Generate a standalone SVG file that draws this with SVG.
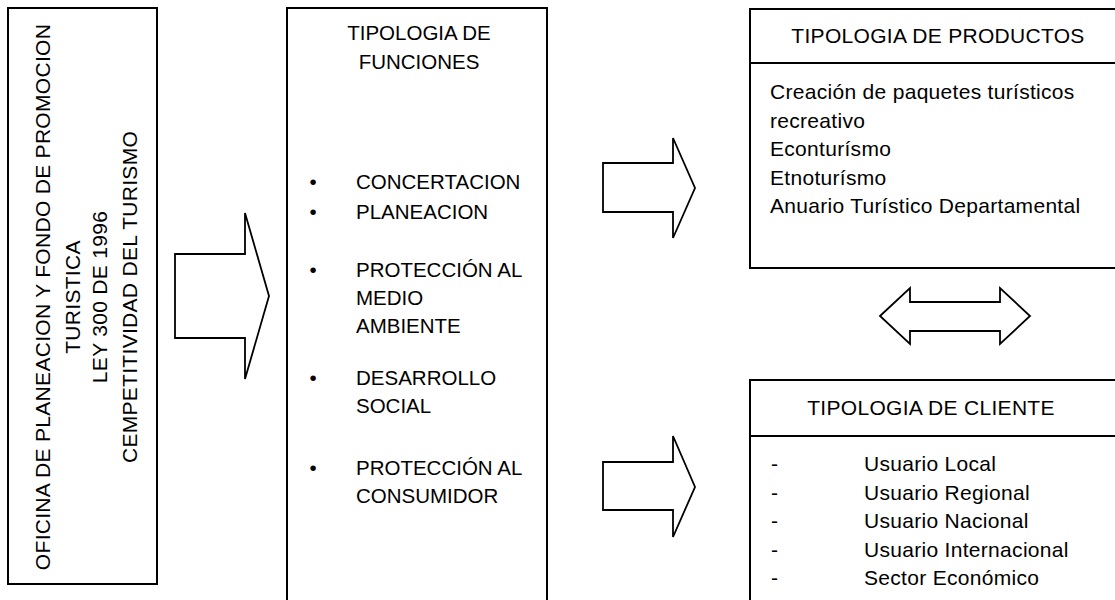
<svg xmlns="http://www.w3.org/2000/svg" width="1115" height="600" viewBox="0 0 1115 600">
<style>
text{font-family:"Liberation Sans",Arial,sans-serif;font-size:21px;letter-spacing:0.3px;fill:#000}
.m{font-size:20.5px;letter-spacing:0}
.box{fill:#fff;stroke:#000;stroke-width:2}
.arr{fill:#fff;stroke:#000;stroke-width:1.8;stroke-linejoin:miter}
.c{text-anchor:middle}
</style>
<rect width="1115" height="600" fill="#fff"/>
<g id="oficina">
<rect class="box" x="8" y="8" width="149" height="576"/>
<text class="c" transform="translate(50,297) rotate(-90)">OFICINA DE PLANEACION Y FONDO DE PROMOCION</text>
<text class="c" transform="translate(80,297) rotate(-90)">TURISTICA</text>
<text class="c" transform="translate(107,297) rotate(-90)">LEY 300 DE 1996</text>
<text class="c" transform="translate(137,297) rotate(-90)">CEMPETITIVIDAD DEL TURISMO</text>
</g>
<g id="funciones">
<rect class="box" x="287" y="8" width="260" height="600"/>
<text class="c m" x="419" y="40">TIPOLOGIA DE</text>
<text class="c m" x="419" y="69">FUNCIONES</text>
<text class="c m" x="313" y="189">•</text><text class="m" x="356" y="189">CONCERTACION</text>
<text class="c m" x="313" y="219">•</text><text class="m" x="356" y="219">PLANEACION</text>
<text class="c m" x="313" y="277">•</text><text class="m" x="356" y="277">PROTECCIÓN AL</text>
<text class="m" x="356" y="305">MEDIO</text>
<text class="m" x="356" y="333">AMBIENTE</text>
<text class="c m" x="313" y="385">•</text><text class="m" x="356" y="385">DESARROLLO</text>
<text class="m" x="356" y="413">SOCIAL</text>
<text class="c m" x="313" y="475">•</text><text class="m" x="356" y="475">PROTECCIÓN AL</text>
<text class="m" x="356" y="503">CONSUMIDOR</text>
</g>
<g id="productos">
<rect class="box" x="750" y="9" width="380" height="259"/>
<line x1="750" y1="63" x2="1130" y2="63" stroke="#000" stroke-width="2"/>
<text class="c" x="938" y="43">TIPOLOGIA DE PRODUCTOS</text>
<text x="770" y="99">Creación de paquetes turísticos</text>
<text x="770" y="127.5">recreativo</text>
<text x="770" y="156">Econturísmo</text>
<text x="770" y="184.5">Etnoturísmo</text>
<text x="770" y="213">Anuario Turístico Departamental</text>
</g>
<g id="cliente">
<rect class="box" x="750" y="380" width="380" height="240"/>
<line x1="750" y1="436" x2="1130" y2="436" stroke="#000" stroke-width="2"/>
<text class="c" x="931" y="415">TIPOLOGIA DE CLIENTE</text>
<text x="771" y="471">-</text><text x="864" y="471">Usuario Local</text>
<text x="771" y="499.5">-</text><text x="864" y="499.5">Usuario Regional</text>
<text x="771" y="528">-</text><text x="864" y="528">Usuario Nacional</text>
<text x="771" y="556.5">-</text><text x="864" y="556.5">Usuario Internacional</text>
<text x="771" y="585">-</text><text x="864" y="585">Sector Económico</text>
</g>
<g id="connectors">
<polygon class="arr" points="175,254 245,254 245,213 269,296 245,379 245,338 175,338"/>
<polygon class="arr" points="603,163 673,163 673,138 695,188 673,238 673,212 603,212"/>
<polygon class="arr" points="603,462 673,462 673,436 695,487 673,537 673,510 603,510"/>
<polygon class="arr" points="880,316 910,288 910,302 1000,302 1000,288 1030,316 1000,344 1000,331 910,331 910,344"/>
</g>
</svg>
